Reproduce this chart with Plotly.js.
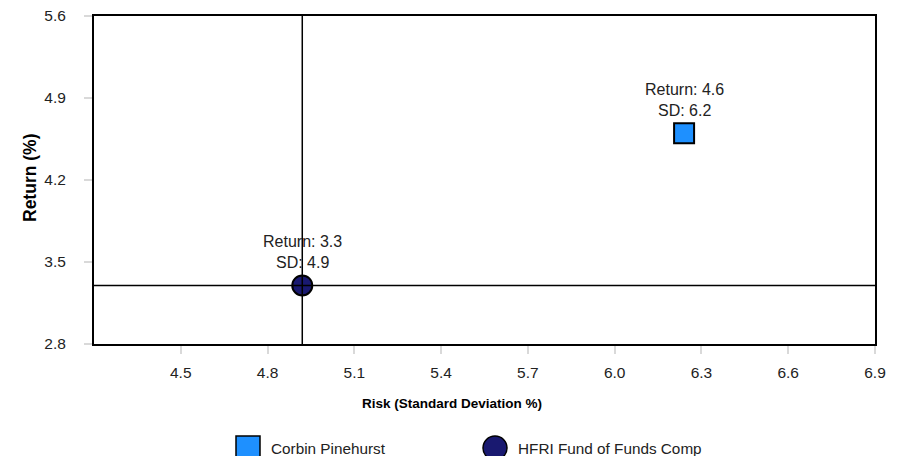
<!DOCTYPE html>
<html>
<head>
<meta charset="utf-8">
<script src="https://cdn.plot.ly/plotly-3.0.1.min.js"></script>
<style>html,body{margin:0;padding:0;background:#fff;}#chart{width:905px;height:456px;}</style>
</head>
<body>
<div id="chart"></div>
<script>
// Data
const seriesNames = ["Corbin Pinehurst", "HFRI Fund of Funds Comp"];
const riskSD = [6.24, 4.92];
const returnPct = [4.60, 3.30];
const labelReturn = ["4.6", "3.3"];
const labelSD = ["6.2", "4.9"];
const xTicks = [4.5, 4.8, 5.1, 5.4, 5.7, 6.0, 6.3, 6.6, 6.9];
const yTicks = [2.8, 3.5, 4.2, 4.9, 5.6];
const xRange = [4.2, 6.9];
const yRange = [2.8, 5.6];
const benchmarkIndex = 1;

const fills = ["#1E90FF", "#191970"];
const symbols = ["square", "circle"];

const traces = seriesNames.map((n, i) => ({
  type: "scatter", mode: "markers", name: n,
  x: [riskSD[i]], y: [returnPct[i]],
  marker: {symbol: symbols[i], size: 20, color: fills[i], line: {color: "#000", width: 2}},
  showlegend: false, hoverinfo: "skip"
}));

const fam = "Liberation Sans, Arial, sans-serif";
const font = {family: fam, size: 15.5, color: "#222"};
const annotations = [];
seriesNames.forEach((n, i) => {
  annotations.push({x: riskSD[i], y: returnPct[i], xref: "x", yref: "y", text: "Return: " + labelReturn[i],
    showarrow: false, yshift: 44, font: {family: fam, size: 16, color: "#222"}});
  annotations.push({x: riskSD[i], y: returnPct[i], xref: "x", yref: "y", text: "SD: " + labelSD[i],
    showarrow: false, yshift: 23, font: {family: fam, size: 16, color: "#222"}});
});
// axis titles
annotations.push({xref: "paper", yref: "paper", x: (452 - 94) / 781, y: -(403 - 344) / 328, text: "<b>Risk (Standard Deviation %)</b>",
  showarrow: false, font: {family: fam, size: 13.5, color: "#000"}, xanchor: "center", yanchor: "middle"});
annotations.push({xref: "paper", yref: "paper", x: -(94 - 30) / 781, y: (344 - 178) / 328, text: "<b>Return (%)</b>", textangle: -90,
  showarrow: false, font: {family: fam, size: 17.5, color: "#000"}, xanchor: "center", yanchor: "middle"});

// legend (custom, big markers)
const legendX = [248, 495];
const legendY = 448;
const shapes = [];
seriesNames.forEach((n, i) => {
  const px = (legendX[i] - 94) / 781, py = (344 - legendY) / 328;
  shapes.push({type: symbols[i] === "square" ? "rect" : "circle", xref: "paper", yref: "paper",
    xsizemode: "pixel", ysizemode: "pixel", xanchor: px, yanchor: py,
    x0: -12, x1: 12, y0: -12, y1: 12, fillcolor: fills[i], line: {color: "#000", width: 1.5}});
  annotations.push({xref: "paper", yref: "paper", x: px, y: py, xshift: 21, text: n, showarrow: false,
    xanchor: "left", yanchor: "middle", font: {family: fam, size: 15.3, color: "#222"}});
});

// crosshair at benchmark
shapes.push({type: "line", xref: "x", yref: "paper", x0: riskSD[benchmarkIndex], x1: riskSD[benchmarkIndex], y0: 0, y1: 1,
  line: {color: "#000", width: 1.5}, layer: "above"});
shapes.push({type: "line", xref: "paper", yref: "y", x0: 0, x1: 1, y0: returnPct[benchmarkIndex], y1: returnPct[benchmarkIndex],
  line: {color: "#000", width: 1.5}, layer: "above"});

const layout = {
  width: 905, height: 456,
  margin: {l: 94, r: 30, t: 16, b: 112},
  paper_bgcolor: "#fff", plot_bgcolor: "#fff",
  showlegend: false,
  font: font,
  xaxis: {range: xRange, tickvals: xTicks, ticktext: xTicks.map(v => v.toFixed(1)),
    tickfont: {family: fam, size: 15.5, color: "#222"},
    showgrid: false, zeroline: false, showline: true, linecolor: "#000", linewidth: 2, mirror: true,
    ticks: "outside", ticklen: 8, tickcolor: "#d9d9d9", tickwidth: 2, ticklabelstandoff: 5},
  yaxis: {range: yRange, tickvals: yTicks, ticktext: yTicks.map(v => v.toFixed(1)),
    tickfont: {family: fam, size: 15.5, color: "#222"},
    showgrid: false, zeroline: false, showline: true, linecolor: "#000", linewidth: 2, mirror: true,
    ticks: "outside", ticklen: 8, tickcolor: "#d9d9d9", tickwidth: 2, ticklabelstandoff: 15},
  annotations: annotations,
  shapes: shapes
};

Plotly.newPlot("chart", traces, layout, {displayModeBar: false, staticPlot: true});
</script>
</body>
</html>
